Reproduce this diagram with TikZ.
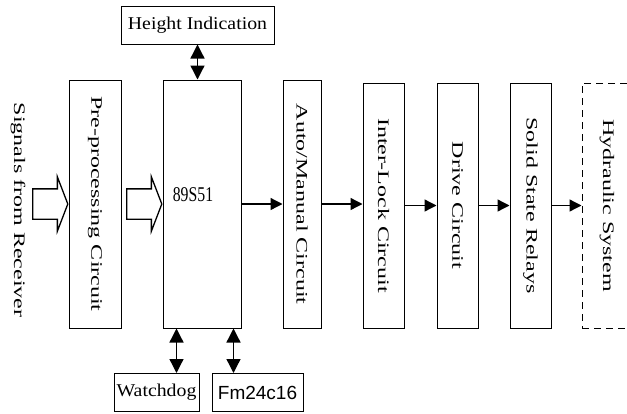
\documentclass[tikz,border=0pt]{standalone}
\usepackage{fontspec}
\setmainfont{Liberation Serif}
\newfontfamily\vertfont[FakeStretch=1.5]{Liberation Serif}
\newfontfamily\horfont[FakeStretch=1.1]{Liberation Serif}
\newfontfamily\numfont[FakeStretch=0.75]{Liberation Serif}
\newfontfamily\chipfont{Liberation Sans}
\usepackage{graphicx}
\usetikzlibrary{arrows.meta, shapes.arrows, calc}

\begin{document}
\begin{tikzpicture}[x=1pt, y=-1pt,
  block/.style={rectangle, draw, line width=1pt, inner sep=0pt,
    minimum height=248pt, font=\vertfont\fontsize{16}{18}\selectfont},
  small/.style={rectangle, draw, line width=1pt, inner sep=0pt,
    minimum height=38pt, font=\horfont\fontsize{18}{20}\selectfont},
  arr/.style={-{Triangle[length=12pt,width=12pt]}, line width=1.3pt},
  dbl/.style={{Triangle[length=14pt,width=14pt]}-{Triangle[length=14pt,width=14pt]}, line width=1.3pt},
  hollow/.style={single arrow, draw, line width=1.3pt, inner xsep=0pt, inner ysep=14.5pt,
    minimum height=35pt, single arrow head extend=12pt,
    single arrow tip angle=138},
]
\useasboundingbox (0,0) rectangle (627,413);

\node[font=\vertfont\fontsize{16}{18}\selectfont] (sig) at (18,210) {\rotatebox{-90}{Signals from Receiver}};
\node[block, minimum width=52pt] (pre) at (95,204) {\rotatebox{-90}{Pre-processing Circuit}};
\node[block, minimum width=78pt, font=\numfont\fontsize{21}{23}\selectfont] (mcu) at (202,204) {\raisebox{18pt}{89S51}\hspace*{18pt}};
\node[block, minimum width=38pt] (auto) at (302,204) {\rotatebox{-90}{Auto/Manual Circuit}};
\node[block, minimum width=41pt, minimum height=245pt] (inter) at (383.5,205.5) {\rotatebox{-90}{Inter-Lock Circuit}};
\node[block, minimum width=41pt, minimum height=245pt] (drive) at (457.5,205.5) {\rotatebox{-90}{Drive Circuit}};
\node[block, minimum width=41pt, minimum height=245pt] (relay) at (530.5,205.5) {\rotatebox{-90}{Solid State Relays}};
\node[block, dash pattern=on 7pt off 5pt, minimum width=50pt, minimum height=245pt] (hyd) at (607,205.5) {\rotatebox{-90}{Hydraulic System}};

\node[small, minimum width=153pt] (hi) at (197.5,25) {Height Indication};
\node[small, minimum width=85pt] (wd) at (156.5,392.5) {Watchdog};
\node[small, minimum width=91pt, font=\chipfont\fontsize{19}{21}\selectfont] (fm) at (257.5,392.5) {Fm24c16};

\node[hollow, anchor=tip] (in1) at (pre.west) {};
\node[hollow, anchor=tip] (in2) at (mcu.west) {};

\draw[arr] (mcu.east) -- (auto.west);
\draw[arr] (auto.east) -- (auto.east -| inter.west);
\draw[arr] (inter.east) -- (drive.west);
\draw[arr] (drive.east) -- (relay.west);
\draw[arr] (relay.east) -- (hyd.west);

\coordinate (wdtap) at ([xshift=14pt]mcu.south west);
\coordinate (fmtap) at ([xshift=-8pt]mcu.south east);
\draw[dbl] (hi.south) -- (hi.south |- mcu.north);
\draw[dbl] (wdtap) -- (wdtap |- wd.north);
\draw[dbl] (fmtap) -- (fmtap |- fm.north);

\end{tikzpicture}
\end{document}
